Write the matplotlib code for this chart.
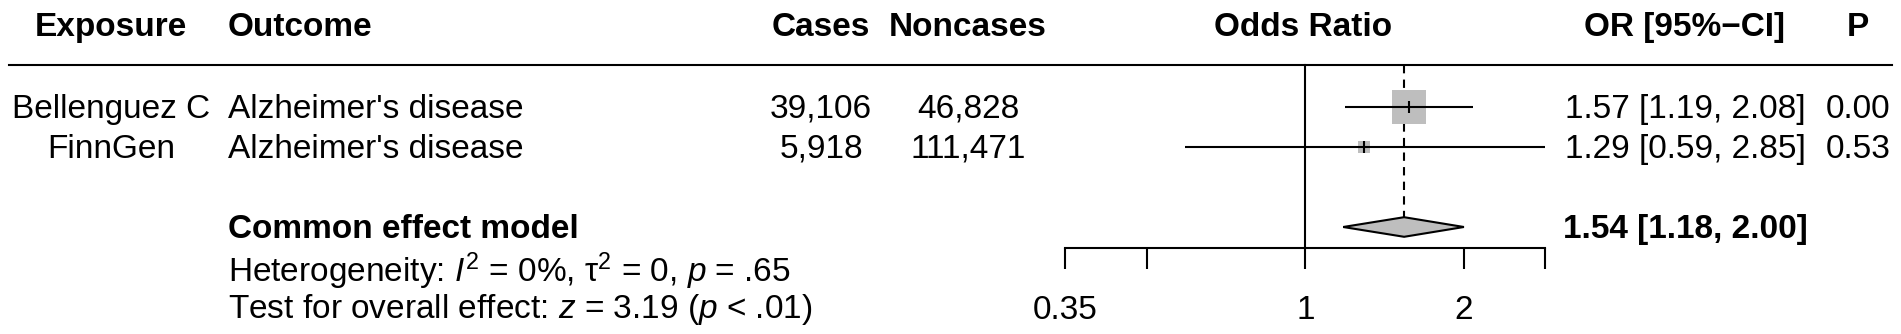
import numpy as np
import matplotlib
matplotlib.use('Agg')
import matplotlib.pyplot as plt
from matplotlib.patches import Polygon

plt.rcParams['font.family'] = ['Liberation Sans', 'DejaVu Sans']
plt.rcParams['mathtext.fontset'] = 'custom'
plt.rcParams['mathtext.rm'] = 'Liberation Sans'
plt.rcParams['mathtext.it'] = 'Liberation Sans:italic'
plt.rcParams['mathtext.bf'] = 'Liberation Sans:bold'

# ── 数据 ──
exposure = ['Bellenguez C', 'FinnGen']
outcome = ["Alzheimer's disease", "Alzheimer's disease"]
cases = [39106, 5918]
noncases = [46828, 111471]
or_est = [1.57, 1.29]
ci_low = [1.19, 0.59]
ci_high = [2.08, 2.85]
p_values = [0.00, 0.53]

pooled_label = 'Common effect model'
pooled_est, pooled_low, pooled_high = 1.54, 1.18, 2.00
het_text = r'Heterogeneity: $I^2$ = 0%, $\mathrm{\tau}^2$ = 0, $p$ = .65'
test_text = r'Test for overall effect: $z$ = 3.19 ($p$ < .01)'

x_ticks = [0.35, 0.5, 1, 2, 2.85]
x_tick_labels = ['0.35', '', '1', '2', '']

# ── 画布 ──
W, H = 1901, 334
row_px, row0_px = 40, 107
ytop = (0 - row0_px) / row_px
ybot = (H - row0_px) / row_px
fs = 24
cap = 0.27  # 基线相对行中心的偏移

fig = plt.figure(figsize=(W / 100, H / 100), dpi=100)

tax = fig.add_axes([0, 0, 1, 1])
tax.set_xlim(0, W)
tax.set_ylim(ybot, ytop)
tax.axis('off')

fax = fig.add_axes([1065 / W, 0, 480 / W, 1])
fax.set_xscale('log')
fax.set_xlim(x_ticks[0], x_ticks[-1])
fax.set_ylim(ybot, ytop)
fax.patch.set_visible(False)
for s in ['left', 'right', 'top']:
    fax.spines[s].set_visible(False)

axis_row = 3.53
head_row = -2.05
rule_row = -1.05

fax.spines['bottom'].set_position(('data', axis_row))
fax.spines['bottom'].set_linewidth(1.5)
fax.set_xticks(x_ticks, labels=x_tick_labels)
fax.minorticks_off()
fax.set_yticks([])
fax.tick_params(axis='x', direction='out', length=15, width=1.5,
                labelsize=fs, pad=19)

# 表头
def put(x, y, s, ha='left', bold=False):
    tax.text(x, y + cap, s, ha=ha, va='baseline', fontsize=fs,
             fontweight='bold' if bold else 'normal')

put(111, head_row, 'Exposure', 'center', True)
put(228, head_row, 'Outcome', 'left', True)
put(821, head_row, 'Cases', 'center', True)
put(968, head_row, 'Noncases', 'center', True)
put(1303, head_row, 'Odds Ratio', 'center', True)
put(1685, head_row, 'OR [95%\u2212CI]', 'center', True)
put(1858, head_row, 'P', 'center', True)

tax.plot([9, 1892], [rule_row, rule_row], color='black', lw=1.5)

# 各研究行
rows = np.arange(len(exposure))
se = (np.log(ci_high) - np.log(ci_low)) / (2 * 1.96)
w = 1 / se ** 2
sq = 24.5 * np.sqrt(w / w.max())

for i, r in enumerate(rows):
    put(111, r, exposure[i], 'center')
    put(228, r, outcome[i])
    put(821, r, f'{cases[i]:,}', 'center')
    put(968, r, f'{noncases[i]:,}', 'center')
    put(1685, r, f'{or_est[i]:.2f} [{ci_low[i]:.2f}, {ci_high[i]:.2f}]', 'center')
    put(1858, r, f'{p_values[i]:.2f}', 'center')

    fax.plot(or_est[i], r, marker='s', ms=sq[i], mew=0, color='#bebebe', zorder=2)
    fax.plot([ci_low[i], ci_high[i]], [r, r], color='black', lw=1.5, zorder=3,
             solid_capstyle='butt')
    fax.plot(or_est[i], r, marker='|', ms=8.5, mew=1.5, color='black', zorder=4)

# 合并效应
pr = 3
put(228, pr, pooled_label, 'left', True)
put(1685, pr, f'{pooled_est:.2f} [{pooled_low:.2f}, {pooled_high:.2f}]', 'center', True)
dh = 0.245
diamond = Polygon([(pooled_low, pr), (pooled_est, pr - dh), (pooled_high, pr),
                   (pooled_est, pr + dh)], closed=True, facecolor='#bebebe',
                  edgecolor='black', lw=1.5, zorder=3)
fax.add_patch(diamond)

# 参考线
fax.plot([1, 1], [rule_row, axis_row], color='black', lw=1.5, zorder=1)
fax.plot([pooled_est, pooled_est], [rule_row, pr - dh], color='black', lw=1.5,
         dashes=(4, 3), zorder=1)

put(228, 4.12, het_text)
put(228, 5.0, test_text)

fig.savefig('out.png', dpi=100)
